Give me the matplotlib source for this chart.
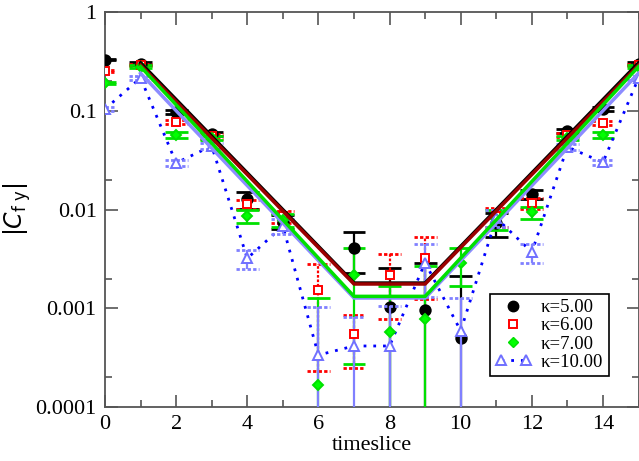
import numpy as np
import matplotlib
matplotlib.use("Agg")
import matplotlib.pyplot as plt
from matplotlib.lines import Line2D
from matplotlib.legend_handler import HandlerLine2D

plt.rcParams['font.family'] = ['Liberation Serif', 'DejaVu Serif']
plt.rcParams['mathtext.fontset'] = 'dejavusans'

# timeslices
t = np.arange(16)

# |C_fy| correlator for each kappa (nan = negative, not shown on log axis)
c_k5 = [0.33, 0.30, 0.097, 0.058, 0.0127, 0.0075, np.nan, 0.0041,
        0.00103, 0.00096, 0.0005, 0.0073, 0.0144, 0.062, 0.104, 0.30]
e_k5 = [0.006, 0.010, 0.004, 0.003, 0.0025, 0.0012, np.nan, 0.0018,
        0.0015, 0.0019, 0.0016, 0.0020, 0.0015, 0.003, 0.004, 0.010]

c_k6 = [0.25, 0.29, 0.077, 0.055, 0.0113, 0.0085, 0.00153, 0.00055,
        0.00217, 0.00325, np.nan, 0.0085, 0.0116, 0.057, 0.075, 0.29]
e_k6 = [0.006, 0.008, 0.004, 0.003, 0.0012, 0.0012, 0.0013, 0.0003,
        0.0014, 0.0020, np.nan, 0.0018, 0.0014, 0.003, 0.004, 0.008]

c_k7 = [0.19, 0.28, 0.057, 0.053, 0.0086, 0.0078, 0.000167, 0.00217,
        0.00058, 0.00078, 0.0029, 0.0080, 0.0094, 0.053, 0.057, 0.28]
e_k7 = [0.005, 0.008, 0.004, 0.003, 0.0013, 0.0012, 0.0011, 0.0019,
        0.0011, 0.0019, 0.0012, 0.0018, 0.0013, 0.003, 0.004, 0.008]

c_k10 = [0.104, 0.215, 0.0296, 0.044, 0.0032, 0.0068, 0.000336, 0.000415,
         0.000415, 0.0029, 0.00059, 0.0082, 0.0037, 0.043, 0.030, 0.215]
e_k10 = [0.004, 0.008, 0.002, 0.003, 0.0007, 0.0012, 0.0007, 0.0004,
         0.00065, 0.0016, 0.00067, 0.0016, 0.0008, 0.003, 0.002, 0.008]

# fit curves (forward / backward exponentials, flat across the midpoint)
fit_t = [1, 7, 9, 15]
fit_k5 = [0.305, 0.00180, 0.00180, 0.305]
fit_k6 = [0.29, 0.00176, 0.00176, 0.29]
fit_k7 = [0.28, 0.00132, 0.00132, 0.28]
fit_k10 = [0.24, 0.00127, 0.00127, 0.24]

labels = [u'\u03ba=5.00', u'\u03ba=6.00', u'\u03ba=7.00', u'\u03ba=10.00']

fig = plt.figure(figsize=(6.39, 4.61), dpi=100)
ax = fig.add_axes([0.1643, 0.1171, 0.835, 0.8569])
ax.set_yscale('log')

def draw_set(c, e, col, bar_ls, cap_ls, marker, ms, mfc, mec, z):
    c = np.asarray(c, float)
    e = np.asarray(e, float)
    eb = ax.errorbar(t, c, yerr=e, fmt='none', ecolor=col, elinewidth=1.6,
                     capsize=0, zorder=z)
    eb[2][0].set_linestyle(bar_ls)
    for y in (c + e, c - e):
        ok = np.isfinite(y) & (y > 0)
        ax.hlines(y[ok], t[ok] - 0.32, t[ok] + 0.32, colors=col,
                  linestyles=cap_ls, linewidth=2.0, zorder=z)
    ax.plot(t, c, linestyle='none', marker=marker, ms=ms, mfc=mfc,
            mec=mec, mew=1.4, zorder=z + 0.5)

dots = (0, (1.2, 0.8))
draw_set(c_k5, e_k5, 'black', 'solid', 'solid', 'o', 7.5, 'black', 'black', 3)
draw_set(c_k6, e_k6, '#ff0000', dots, dots, 's', 5.5, 'white', '#ff0000', 3.2)
draw_set(c_k7, e_k7, '#00e000', 'solid', 'solid', 'D', 5.5, '#00ff00', '#00e000', 3.4)
draw_set(c_k10, e_k10, '#8080ff', 'solid', dots, '^', 7.5, 'white', '#7070ff', 3.6)

# dotted guide through the kappa=10 points
ax.plot(t, c_k10, linestyle=(0, (1, 2.5)), color='#0000ff', lw=2.0, zorder=3.5)

# fits
ax.plot(fit_t, fit_k5, color='black', lw=2.5, zorder=4)
ax.plot(fit_t, fit_k6, color='#9b0000', lw=2.5, zorder=4.1)
ax.plot(fit_t, fit_k7, color='#00e000', lw=2.5, zorder=4.2)
ax.plot(fit_t, fit_k10, color='#8c8cff', lw=2.5, zorder=4.1)

ax.set_xlim(0, 15)
ax.set_ylim(1e-4, 1)
ax.set_xticks(np.arange(0, 15, 2))
ax.set_xticks(np.arange(1, 16, 2), minor=True)
ax.set_yticks([1e-4, 1e-3, 1e-2, 1e-1, 1])
ax.set_yticklabels(['0.0001', '0.001', '0.01', '0.1', '1'])
ax.set_yticks([2e-4, 2e-3, 2e-2, 2e-1], minor=True)
ax.yaxis.set_minor_formatter(matplotlib.ticker.NullFormatter())
ax.tick_params(which='both', direction='in', top=True, right=True,
               labelsize=16, color='#555555', pad=6)
ax.tick_params(which='major', length=9, width=1.2)
ax.tick_params(which='minor', length=5, width=1.2)
for sp in ax.spines.values():
    sp.set_color('#555555')
    sp.set_linewidth(1.3)

ax.set_xlabel('timeslice', fontsize=16, labelpad=1)
ax.set_ylabel(r'$|C_{\mathrm{f\ y}}|$', fontsize=17, labelpad=2)

handles = [
    Line2D([], [], ls='none', marker='o', ms=7.5, mfc='black', mec='black'),
    Line2D([], [], ls='none', marker='s', ms=5.5, mfc='white', mec='#ff0000', mew=1.4),
    Line2D([], [], ls='none', marker='D', ms=5.5, mfc='#00ff00', mec='#00e000'),
    Line2D([], [], ls=(0, (1, 2.5)), lw=2.0, color='#0000ff', marker='^', ms=7.5,
           mfc='white', mec='#7070ff', mew=1.4),
]
hmap = {handles[0]: HandlerLine2D(numpoints=1),
        handles[1]: HandlerLine2D(numpoints=1),
        handles[2]: HandlerLine2D(numpoints=1),
        handles[3]: HandlerLine2D(numpoints=2)}
leg = ax.legend(handles, labels, handler_map=hmap, loc='lower right',
                bbox_to_anchor=(0.944, 0.078), fontsize=13.5, fancybox=False,
                edgecolor='black', framealpha=1, borderpad=0.3,
                labelspacing=0.05, handlelength=1.9, handletextpad=0.5,
                borderaxespad=0)
leg.get_frame().set_linewidth(1.2)
leg.set_zorder(10)

fig.savefig('out.png', dpi=100)
